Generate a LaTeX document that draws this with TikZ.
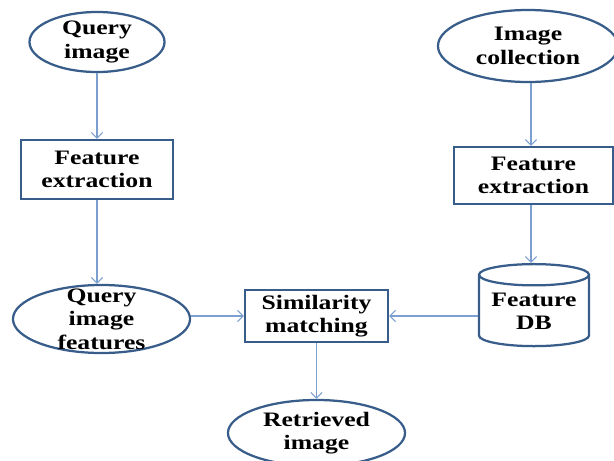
\documentclass[tikz,border=0pt]{standalone}
\usepackage{fontspec}
\setmainfont{Liberation Serif}[FakeStretch=1.25]
\usetikzlibrary{shapes.geometric,arrows.meta}
\definecolor{outl}{HTML}{385D8A}
\definecolor{arrc}{HTML}{7BA0D0}

\begin{document}
\begin{tikzpicture}[x=0.025cm,y=-0.025cm,
  oval/.style={draw=outl,line width=1.6pt,ellipse,inner sep=0pt},
  box/.style={draw=outl,line width=1.6pt,rectangle,inner sep=0pt},
  store/.style={draw=outl,line width=1.6pt,cylinder,shape border rotate=90,aspect=0.25,inner sep=0pt},
  txt/.style={font=\fontsize{14.6}{16.6}\selectfont\bfseries,align=center},
  arr/.style={draw=arrc,line width=0.8pt,-{Straight Barb[length=4pt,width=8pt]}}]
\useasboundingbox (0,0) rectangle (614,461);
\node[oval,txt,minimum width=3.375cm,minimum height=1.5cm] (qimg) at (97,42) {Query\\image};
\node[box,txt,minimum width=3.8cm,minimum height=1.475cm] (fe1) at (97,169.5) {Feature\\extraction};
\node[oval,minimum width=4.425cm,minimum height=1.7cm] (qfeat) at (101.5,319) {};
\node[txt] at (qfeat) {Query\\image\\features};
\node[box,txt,minimum width=3.575cm,minimum height=1.3cm] (sim) at (316.5,316) {Similarity\\matching};
\node[oval,txt,minimum width=4.425cm,minimum height=1.65cm] (ret) at (316.5,433) {Retrieved\\image};
\node[oval,txt,minimum width=4.5cm,minimum height=1.8cm] (icol) at (528,46) {Image\\collection};
\node[box,txt,minimum width=3.975cm,minimum height=1.425cm] (fe2) at (533.5,175.5) {Feature\\extraction};
\node[store,txt,minimum width=2.75cm,minimum height=2.05cm] (db) at (534,311) {Feature\\DB};
\draw[arr] (qimg.south) -- (fe1.north);
\draw[arr] (fe1.south) -- (fe1.south |- qfeat.north);
\draw[arr] (icol.south -| 531,0) -- (fe2.north -| 531,0);
\draw[arr] (fe2.south -| 531,0) -- (db.top -| 531,0);
\draw[arr] (qfeat.east |- sim.west) -- (sim.west);
\draw[arr] (db.west |- sim.east) -- (sim.east);
\draw[arr] (sim.south) -- (ret.north);
\end{tikzpicture}
\end{document}
